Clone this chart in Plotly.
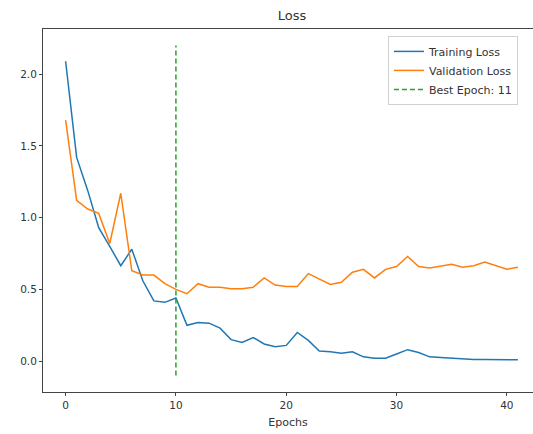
import plotly.graph_objects as go

epochs = list(range(42))
train_loss = [2.09, 1.42, 1.19, 0.93, 0.80, 0.665, 0.78, 0.56, 0.42, 0.41,
              0.44, 0.25, 0.27, 0.265, 0.23, 0.15, 0.13, 0.165, 0.12, 0.10,
              0.11, 0.20, 0.145, 0.07, 0.065, 0.055, 0.065, 0.03, 0.02, 0.02,
              0.05, 0.08, 0.06, 0.03, 0.025, 0.02, 0.015, 0.012, 0.012, 0.012,
              0.015, 0.01]
val_loss = [1.68, 1.12, 1.06, 1.03, 0.82, 1.17, 0.63, 0.60, 0.60, 0.54,
            0.50, 0.47, 0.54, 0.515, 0.515, 0.505, 0.505, 0.515, 0.58, 0.53,
            0.52, 0.52, 0.61, 0.575, 0.535, 0.55, 0.62, 0.64, 0.58, 0.64,
            0.66, 0.73, 0.66, 0.65, 0.66, 0.675, 0.655, 0.665, 0.69, 0.665,
            0.64, 0.655]
best_epoch_idx = 10
best_label = "Best Epoch: 11"
vline_y = [-0.1, 2.2]

fig = go.Figure()
fig.add_trace(go.Scatter(x=epochs, y=train_loss, mode="lines", name="Training Loss",
                         line=dict(color="#1f77b4", width=1.5)))
fig.add_trace(go.Scatter(x=epochs, y=val_loss, mode="lines", name="Validation Loss",
                         line=dict(color="#ff7f0e", width=1.5)))
fig.add_trace(go.Scatter(x=[best_epoch_idx, best_epoch_idx], y=vline_y, mode="lines",
                         name=best_label,
                         line=dict(color="#2ca02c", width=1.5, dash="5px,3px")))

axis_common = dict(showgrid=False, zeroline=False, showline=True, linecolor="#444",
                   linewidth=1, ticks="outside", ticklen=3, tickcolor="#444",
                   tickfont=dict(family="DejaVu Sans", size=10.5, color="#333"))

fig.update_layout(
    width=533, height=434,
    margin=dict(l=43, r=0, t=29, b=42),
    paper_bgcolor="white", plot_bgcolor="white",
    title=dict(text="Loss", x=(292 / 533), xanchor="center", y=1 - 15 / 434, yanchor="middle",
               font=dict(family="DejaVu Sans", size=13, color="#333")),
    xaxis=dict(range=[-2.05, 42.37], tickvals=[0, 10, 20, 30, 40], mirror=True,
               title=dict(text="Epochs", font=dict(family="DejaVu Sans", size=11, color="#333"),
                          standoff=8),
               **axis_common),
    yaxis=dict(range=[-0.215, 2.315], tickvals=[0.0, 0.5, 1.0, 1.5, 2.0],
               tickformat=".1f", mirror=False, **axis_common),
    legend=dict(x=0.704, y=0.981, xanchor="left", yanchor="top",
                bgcolor="rgba(255,255,255,0.85)", bordercolor="#d0d0d0", borderwidth=1,
                font=dict(family="DejaVu Sans", size=11, color="#333"),
                itemwidth=30, tracegroupgap=0),
    showlegend=True,
)

fig.write_html("out.html")
